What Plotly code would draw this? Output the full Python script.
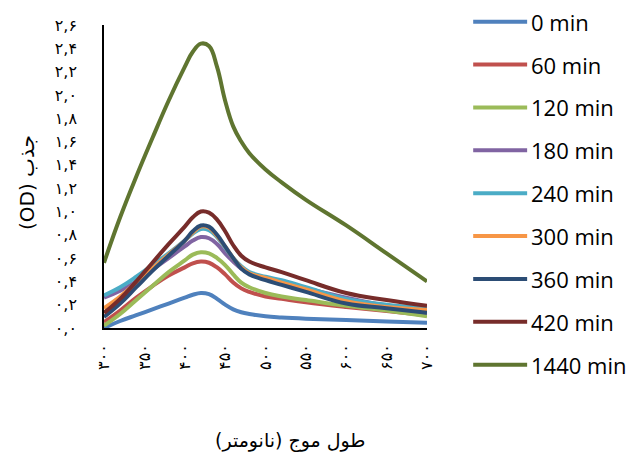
import plotly.graph_objects as go

wavelengths = [300, 320, 340, 360, 380, 400, 410, 420, 430, 440, 450, 460, 470, 480, 500, 520, 550, 600, 650, 700]
series_names = ["0 min", "60 min", "120 min", "180 min", "240 min", "300 min", "360 min", "420 min", "1440 min"]
od_0 = [0.00, 0.06, 0.11, 0.16, 0.21, 0.26, 0.285, 0.30, 0.29, 0.25, 0.20, 0.16, 0.135, 0.12, 0.10, 0.09, 0.08, 0.068, 0.056, 0.045]
od_60 = [0.05, 0.15, 0.26, 0.36, 0.45, 0.52, 0.555, 0.57, 0.56, 0.52, 0.46, 0.39, 0.34, 0.31, 0.27, 0.25, 0.22, 0.18, 0.145, 0.11]
od_120 = [0.02, 0.12, 0.24, 0.36, 0.48, 0.58, 0.63, 0.65, 0.64, 0.60, 0.54, 0.46, 0.39, 0.35, 0.30, 0.27, 0.24, 0.19, 0.15, 0.10]
od_180 = [0.26, 0.32, 0.40, 0.50, 0.60, 0.70, 0.75, 0.78, 0.77, 0.72, 0.64, 0.57, 0.51, 0.47, 0.42, 0.39, 0.34, 0.26, 0.19, 0.13]
od_240 = [0.28, 0.35, 0.44, 0.54, 0.64, 0.75, 0.81, 0.85, 0.84, 0.78, 0.69, 0.60, 0.53, 0.48, 0.44, 0.41, 0.35, 0.25, 0.20, 0.17]
od_300 = [0.17, 0.27, 0.39, 0.51, 0.63, 0.75, 0.82, 0.87, 0.86, 0.79, 0.70, 0.60, 0.52, 0.47, 0.43, 0.39, 0.33, 0.23, 0.18, 0.155]
od_360 = [0.095, 0.21, 0.35, 0.49, 0.62, 0.75, 0.83, 0.88, 0.87, 0.80, 0.70, 0.60, 0.51, 0.46, 0.41, 0.37, 0.31, 0.21, 0.17, 0.13]
od_420 = [0.13, 0.25, 0.40, 0.56, 0.72, 0.87, 0.95, 1.00, 0.99, 0.93, 0.83, 0.71, 0.62, 0.57, 0.52, 0.48, 0.41, 0.30, 0.24, 0.19]
od_1440 = [0.56, 0.95, 1.30, 1.63, 1.95, 2.24, 2.37, 2.44, 2.42, 2.24, 1.95, 1.73, 1.60, 1.50, 1.36, 1.25, 1.10, 0.88, 0.64, 0.40]
series_values = [od_0, od_60, od_120, od_180, od_240, od_300, od_360, od_420, od_1440]
colors = ["#4F81BD", "#C0504D", "#9BBB59", "#8064A2", "#4BACC6", "#F79646", "#2C4D75", "#772C2A", "#5F7530"]

x_tickvals = [300, 350, 400, 450, 500, 550, 600, 650, 700]
x_ticktext = ["۳۰۰", "۳۵۰", "۴۰۰", "۴۵۰", "۵۰۰", "۵۵۰", "۶۰۰", "۶۵۰", "۷۰۰"]
y_tickvals = [0, 0.2, 0.4, 0.6, 0.8, 1.0, 1.2, 1.4, 1.6, 1.8, 2.0, 2.2, 2.4, 2.6]
y_ticktext = ["۰,۰", "۰,۲", "۰,۴", "۰,۶", "۰,۸", "۱,۰", "۱,۲", "۱,۴", "۱,۶", "۱,۸", "۲,۰", "۲,۲", "۲,۴", "۲,۶"]

# RTL embedding so the Persian titles are laid out right-to-left
x_title = "\u202Bطول موج (نانومتر)\u202C"
y_title = "\u202Bجذب (OD)\u202C"

fig = go.Figure()
for name, vals, col in zip(series_names, series_values, colors):
    fig.add_trace(go.Scatter(
        x=wavelengths, y=vals, mode="lines", name=name,
        line=dict(color=col, width=4, shape="spline", smoothing=1.2),
        showlegend=False,
    ))

# manual legend (long line samples like the original)
legend_top = 1.011
legend_step = 0.1415
for i, (name, col) in enumerate(zip(series_names, colors)):
    yy = legend_top - i * legend_step
    fig.add_shape(type="line", xref="paper", yref="paper",
                  x0=1.143, x1=1.31, y0=yy, y1=yy,
                  line=dict(color=col, width=4))
    fig.add_annotation(xref="paper", yref="paper", x=1.316, y=yy,
                       text=name, showarrow=False, xanchor="left", yanchor="middle",
                       font=dict(family="Open Sans, Liberation Sans, sans-serif", size=22, color="#000"))

fig.add_annotation(xref="paper", yref="paper", x=0.576, y=-0.37, text=x_title,
                   showarrow=False, xanchor="center", yanchor="middle",
                   font=dict(family="DejaVu Sans", size=19, color="#000"))
fig.add_annotation(xref="paper", yref="paper", x=-0.24, y=0.48, text=y_title,
                   showarrow=False, textangle=-90, xanchor="center", yanchor="middle",
                   font=dict(family="DejaVu Sans", size=20, color="#000"))

fig.update_layout(
    width=633, height=455,
    margin=dict(l=104, r=206, t=25, b=127),
    paper_bgcolor="white", plot_bgcolor="white",
    xaxis=dict(range=[300, 700], tickvals=x_tickvals, ticktext=x_ticktext, tickangle=-90,
               showgrid=False, zeroline=False, showline=True, linecolor="#000", linewidth=1.5,
               ticks="", ticklabelstandoff=8,
               tickfont=dict(family="DejaVu Sans", size=16, color="#000")),
    yaxis=dict(range=[0, 2.6], tickvals=y_tickvals, ticktext=y_ticktext,
               showgrid=False, zeroline=False, showline=True, linecolor="#000", linewidth=1.5,
               ticks="", ticklabelstandoff=22,
               tickfont=dict(family="DejaVu Sans", size=16, color="#000")),
)

fig.write_html("out.html")
